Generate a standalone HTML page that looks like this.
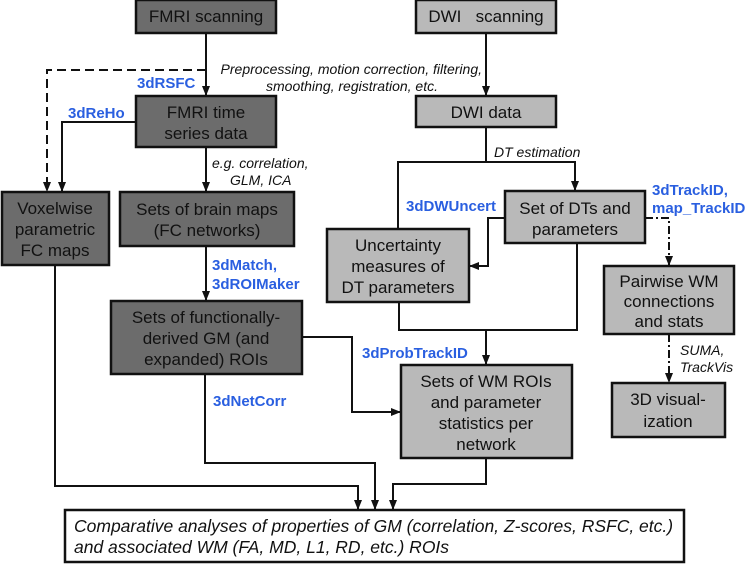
<!DOCTYPE html>
<html><head><meta charset="utf-8"><style>
html,body{margin:0;padding:0;background:#fff}
svg{display:block}
.bt{font-family:"Liberation Sans",sans-serif;font-size:17px;fill:#111;text-anchor:middle}
.bl{font-family:"Liberation Sans",sans-serif;font-size:15px;font-weight:bold;fill:#2a5fe0}
.it{font-family:"Liberation Sans",sans-serif;font-size:14px;font-style:italic;fill:#111}
.dk{fill:#6c6c6c;stroke:#111;stroke-width:2.5}
.lt{fill:#b9b9b9;stroke:#111;stroke-width:2.5}
.ln{fill:none;stroke:#111;stroke-width:2}
</style></head><body>
<svg width="750" height="565" viewBox="0 0 750 565" xmlns="http://www.w3.org/2000/svg">
<defs><marker id="a" markerWidth="10" markerHeight="10" refX="9" refY="5" orient="auto" markerUnits="userSpaceOnUse"><path d="M0,1 L10,5 L0,9 Z" fill="#111"/></marker></defs>

<path class="ln" d="M206,33 V95" marker-end="url(#a)"/>
<path class="ln" d="M206,70 H47 V191" stroke-dasharray="9,5" marker-end="url(#a)"/>
<path class="ln" d="M136,122 H62 V191" marker-end="url(#a)"/>
<path class="ln" d="M206,147 V191" marker-end="url(#a)"/>
<path class="ln" d="M206,246 V300" marker-end="url(#a)"/>
<path class="ln" d="M302,337 H352 V412 H400" marker-end="url(#a)"/>
<path class="ln" d="M205,374 V463 H375 V509" marker-end="url(#a)"/>
<path class="ln" d="M55,265 V486 H358 V509" marker-end="url(#a)"/>
<path class="ln" d="M486,458 V484 H393 V509" marker-end="url(#a)"/>
<path class="ln" d="M486,33 V95" marker-end="url(#a)"/>
<path class="ln" d="M486,127 V162"/>
<path class="ln" d="M398,228 V162 H575 V190" marker-end="url(#a)"/>
<path class="ln" d="M505,218 H488 V266 H470" marker-end="url(#a)"/>
<path class="ln" d="M399,302 V330 H577 V243"/>
<path class="ln" d="M486,330 V364" marker-end="url(#a)"/>
<path class="ln" d="M645,218 H669 V265" stroke-dasharray="8,3,2,3" marker-end="url(#a)"/>
<path class="ln" d="M669,334 V382" stroke-dasharray="8,3,2,3" marker-end="url(#a)"/>

<rect class="dk" x="136" y="0" width="140" height="33"/>
<text class="bt" x="206" y="22">FMRI scanning</text>
<rect class="lt" x="416" y="0" width="140" height="33"/>
<text class="bt" x="486" y="22" xml:space="preserve">DWI   scanning</text>
<rect class="dk" x="136" y="96" width="140" height="51"/>
<text class="bt" x="206" y="118">FMRI time</text><text class="bt" x="206" y="139">series data</text>
<rect class="lt" x="416" y="96" width="140" height="31"/>
<text class="bt" x="486" y="118">DWI data</text>
<rect class="dk" x="2" y="192" width="107" height="73"/>
<text class="bt" x="55" y="214">Voxelwise</text><text class="bt" x="55" y="235">parametric</text><text class="bt" x="55" y="256">FC maps</text>
<rect class="dk" x="120" y="192" width="174" height="54"/>
<text class="bt" x="207" y="215">Sets of brain maps</text><text class="bt" x="207" y="236">(FC networks)</text>
<rect class="dk" x="111" y="301" width="191" height="73"/>
<text class="bt" x="206" y="323">Sets of functionally-</text><text class="bt" x="206" y="344">derived GM (and</text><text class="bt" x="206" y="365">expanded) ROIs</text>
<rect class="lt" x="327" y="229" width="142" height="73"/>
<text class="bt" x="398" y="251">Uncertainty</text><text class="bt" x="398" y="272">measures of</text><text class="bt" x="398" y="293">DT parameters</text>
<rect class="lt" x="505" y="191" width="140" height="52"/>
<text class="bt" x="575" y="214">Set of DTs and</text><text class="bt" x="575" y="235">parameters</text>
<rect class="lt" x="604" y="266" width="130" height="68"/>
<text class="bt" x="669" y="287">Pairwise WM</text><text class="bt" x="669" y="307">connections</text><text class="bt" x="669" y="327">and stats</text>
<rect class="lt" x="401" y="365" width="171" height="93"/>
<text class="bt" x="486" y="387">Sets of WM ROIs</text><text class="bt" x="486" y="408">and parameter</text><text class="bt" x="486" y="429">statistics per</text><text class="bt" x="486" y="450">network</text>
<rect class="lt" x="612" y="383" width="113" height="54"/>
<text class="bt" x="668" y="405">3D visual-</text><text class="bt" x="668" y="427">ization</text>
<rect x="65" y="510" width="619" height="52" fill="#fff" stroke="#111" stroke-width="2.5"/>
<text class="bt" x="74" y="532" style="text-anchor:start;font-style:italic;font-size:17.5px">Comparative analyses of properties of GM (correlation, Z-scores, RSFC, etc.)</text>
<text class="bt" x="74" y="553" style="text-anchor:start;font-style:italic;font-size:17.5px">and associated WM (FA, MD, L1, RD, etc.) ROIs</text>

<text class="bl" x="137" y="88">3dRSFC</text>
<text class="bl" x="68" y="118">3dReHo</text>
<text class="bl" x="212" y="270">3dMatch,</text>
<text class="bl" x="212" y="289">3dROIMaker</text>
<text class="bl" x="213" y="406">3dNetCorr</text>
<text class="bl" x="362" y="358">3dProbTrackID</text>
<text class="bl" x="406" y="211">3dDWUncert</text>
<text class="bl" x="652" y="195">3dTrackID,</text>
<text class="bl" x="652" y="213">map_TrackID</text>

<text class="it" x="482" y="74" style="text-anchor:end">Preprocessing, motion correction, filtering,</text>
<text class="it" x="438" y="91" style="text-anchor:end">smoothing, registration, etc.</text>
<text class="it" x="212" y="168">e.g. correlation,</text>
<text class="it" x="230" y="185">GLM, ICA</text>
<text class="it" x="494" y="157">DT estimation</text>
<text class="it" x="680" y="355">SUMA,</text>
<text class="it" x="680" y="372">TrackVis</text>
</svg>
</body></html>
